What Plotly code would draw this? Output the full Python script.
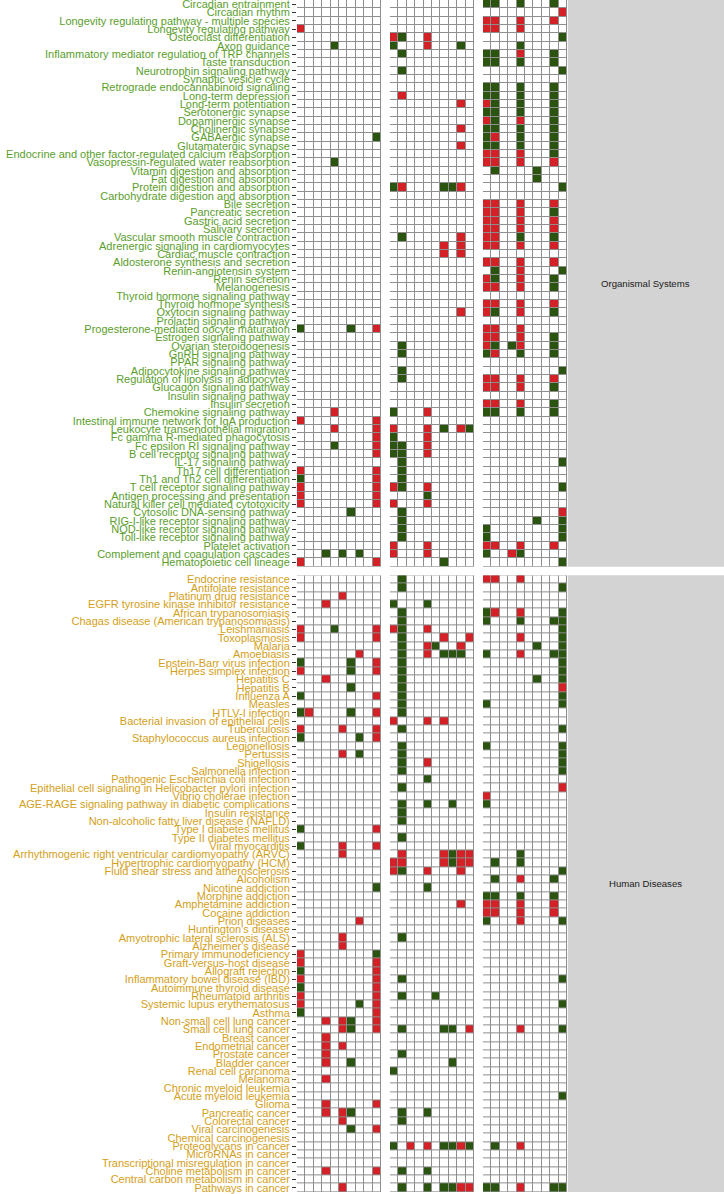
import plotly.graph_objects as go

# ---------------- data ----------------
column_ids = list(range(1, 11))  # 10 columns in each of the 3 panels

os_labels = [
    "Circadian entrainment", "Circadian rhythm", "Longevity regulating pathway - multiple species",
    "Longevity regulating pathway", "Osteoclast differentiation", "Axon guidance",
    "Inflammatory mediator regulation of TRP channels", "Taste transduction",
    "Neurotrophin signaling pathway", "Synaptic vesicle cycle", "Retrograde endocannabinoid signaling",
    "Long-term depression", "Long-term potentiation", "Serotonergic synapse", "Dopaminergic synapse",
    "Cholinergic synapse", "GABAergic synapse", "Glutamatergic synapse",
    "Endocrine and other factor-regulated calcium reabsorption", "Vasopressin-regulated water reabsorption",
    "Vitamin digestion and absorption", "Fat digestion and absorption", "Protein digestion and absorption",
    "Carbohydrate digestion and absorption", "Bile secretion", "Pancreatic secretion",
    "Gastric acid secretion", "Salivary secretion", "Vascular smooth muscle contraction",
    "Adrenergic signaling in cardiomyocytes", "Cardiac muscle contraction",
    "Aldosterone synthesis and secretion", "Renin-angiotensin system", "Renin secretion",
    "Melanogenesis", "Thyroid hormone signaling pathway", "Thyroid hormone synthesis",
    "Oxytocin signaling pathway", "Prolactin signaling pathway", "Progesterone-mediated oocyte maturation",
    "Estrogen signaling pathway", "Ovarian steroidogenesis", "GnRH signaling pathway",
    "PPAR signaling pathway", "Adipocytokine signaling pathway", "Regulation of lipolysis in adipocytes",
    "Glucagon signaling pathway", "Insulin signaling pathway", "Insulin secretion",
    "Chemokine signaling pathway", "Intestinal immune network for IgA production",
    "Leukocyte transendothelial migration", "Fc gamma R-mediated phagocytosis",
    "Fc epsilon RI signaling pathway", "B cell receptor signaling pathway", "IL-17 signaling pathway",
    "Th17 cell differentiation", "Th1 and Th2 cell differentiation", "T cell receptor signaling pathway",
    "Antigen processing and presentation", "Natural killer cell mediated cytotoxicity",
    "Cytosolic DNA-sensing pathway", "RIG-I-like receptor signaling pathway",
    "NOD-like receptor signaling pathway", "Toll-like receptor signaling pathway", "Platelet activation",
    "Complement and coagulation cascades", "Hematopoietic cell lineage",
]

# R = up (red), G = down (green), . = none ; three panels of 10 columns each
os_cells = [
    ".......... .......... GG..G...G.",
    ".......... .......... .........R",
    ".......... .......... RR..R...R.",
    "R......... .......... RR..R.....",
    ".......... RG..R..... .........G",
    "....G..... G...R...G. ....G.....",
    ".......... .G........ GG..R...G.",
    ".......... .......... GG..G...G.",
    ".......... .G........ .........G",
    ".......... .......... ..........",
    ".......... .......... GG..G...G.",
    ".......... .R........ GG..G...G.",
    ".......... ........R. RG..G...G.",
    ".......... .......... GG..G...G.",
    ".......... .......... RG..R...G.",
    ".......... ........R. GG..G...G.",
    ".........G .......... GR..G...G.",
    ".......... ........R. GG..G...G.",
    ".......... .......... RR..R...G.",
    "....G..... .......... RR..R...R.",
    ".......... .......... .G....G...",
    ".......... .......... ......G...",
    ".......... GR....GGR. .........G",
    ".......... .......... ..........",
    ".......... .......... RR..R...R.",
    ".......... .......... RR..R...G.",
    ".......... .......... RR..R...R.",
    ".......... .......... RR..R...R.",
    ".......... .G......R. RR..G...G.",
    ".......... ......R.R. RR..R...R.",
    ".......... ......R.R. ..........",
    ".......... .......... RR..R...R.",
    ".......... .......... .G..R....G",
    ".......... .......... RG..R...G.",
    ".......... .......... RR..R...G.",
    ".......... .......... ..........",
    ".......... .......... RR..R...R.",
    ".......... ........R. RG..R...G.",
    ".......... .......... ..........",
    "G.....G..R .......... RR..R.....",
    ".......... .......... RR..R...G.",
    ".......... .G........ RG.GR...G.",
    ".......... .G........ GR..G...G.",
    ".......... .......... ..........",
    ".......... .G........ .........G",
    ".......... .G........ RR..R...R.",
    ".......... .......... RR..R...G.",
    ".......... .......... ..........",
    ".......... .......... RR..R...G.",
    "....R..... G...R..... GG..G...G.",
    "R........R .......... ..........",
    "....R....R R...R.G.RG ..........",
    ".........R G...R..... ..........",
    "....G....R GG..R..... ..........",
    ".........R GG..R..... ..........",
    ".......... .G........ .........G",
    "R........R .G........ ..........",
    "G........R .G........ ..........",
    "R........R RG..R..... .........G",
    "R........R ....G..... ..........",
    "R........R R...R..... ..........",
    "......G... .G........ .........R",
    ".......... .G........ ......G..G",
    ".......... .G........ G........G",
    ".......... .G........ G........G",
    ".......... R...R..... RR..R...R.",
    "...G.G.G.. R...R..... G..RG.....",
    "R........R ......G... .........G",
]

hd_labels = [
    "Endocrine resistance", "Antifolate resistance", "Platinum drug resistance",
    "EGFR tyrosine kinase inhibitor resistance", "African trypanosomiasis",
    "Chagas disease (American trypanosomiasis)", "Leishmaniasis", "Toxoplasmosis", "Malaria",
    "Amoebiasis", "Epstein-Barr virus infection", "Herpes simplex infection", "Hepatitis C",
    "Hepatitis B", "Influenza A", "Measles", "HTLV-I infection", "Bacterial invasion of epithelial cells",
    "Tuberculosis", "Staphylococcus aureus infection", "Legionellosis", "Pertussis", "Shigellosis",
    "Salmonella infection", "Pathogenic Escherichia coli infection",
    "Epithelial cell signaling in Helicobacter pylori infection", "Vibrio cholerae infection",
    "AGE-RAGE signaling pathway in diabetic complications", "Insulin resistance",
    "Non-alcoholic fatty liver disease (NAFLD)", "Type I diabetes mellitus", "Type II diabetes mellitus",
    "Viral myocarditis", "Arrhythmogenic right ventricular cardiomyopathy (ARVC)",
    "Hypertrophic cardiomyopathy (HCM)", "Fluid shear stress and atherosclerosis", "Alcoholism",
    "Nicotine addiction", "Morphine addiction", "Amphetamine addiction", "Cocaine addiction",
    "Prion diseases", "Huntington's disease", "Amyotrophic lateral sclerosis (ALS)",
    "Alzheimer's disease", "Primary immunodeficiency", "Graft-versus-host disease",
    "Allograft rejection", "Inflammatory bowel disease (IBD)", "Autoimmune thyroid disease",
    "Rheumatoid arthritis", "Systemic lupus erythematosus", "Asthma", "Non-small cell lung cancer",
    "Small cell lung cancer", "Breast cancer", "Endometrial cancer", "Prostate cancer",
    "Bladder cancer", "Renal cell carcinoma", "Melanoma", "Chronic myeloid leukemia",
    "Acute myeloid leukemia", "Glioma", "Pancreatic cancer", "Colorectal cancer",
    "Viral carcinogenesis", "Chemical carcinogenesis", "Proteoglycans in cancer",
    "MicroRNAs in cancer", "Transcriptional misregulation in cancer", "Choline metabolism in cancer",
    "Central carbon metabolism in cancer", "Pathways in cancer",
]

hd_cells = [
    ".......... .G........ RR..R.....",
    ".......... .G........ .........G",
    ".....R.... .......... ..........",
    "...R...... G...G..... ..........",
    ".......... .G........ GR..R....G",
    ".......... .G........ G...G...GG",
    "R...G....R RG..R..... .........G",
    "R........R .G....R..R ....R....G",
    ".......... .G..RG..R. ......G..G",
    ".......R.. .G..R.GGG. G...R...GG",
    "G.....G..R .G........ .........G",
    "R.....G..R .G........ .........G",
    "...R...... .G........ ......G..G",
    "......G... .G........ .........R",
    "G........R .G........ .........G",
    ".......... .G........ G........G",
    "GR....G..R .G........ ..........",
    ".......... R...R.R... ..........",
    "R....R...R .G........ .........G",
    "G......G.R .......... ..........",
    ".......... .G........ G........G",
    ".....R.G.. .G........ .........G",
    ".......... .G..R..... .........G",
    ".......... .G........ .........G",
    ".......... ....G..... ..........",
    ".......... .G........ .........R",
    ".......... .......... R.........",
    ".......... .G..G..G.. G.........",
    ".......... .G........ ..........",
    ".......... .G........ ..........",
    "G........R .......... ..........",
    ".......... .G........ ..........",
    "G....R...R .......... ..........",
    ".....R.... .R....RGRR ....G.....",
    ".......... RR....RGRR .G..G.....",
    ".......... RG..R...R. .........G",
    ".......... .......... .G..R...G.",
    ".........G ....G..... ..........",
    ".......... .......... GG..G...G.",
    ".......... ........R. RR..R...R.",
    ".......... .......... RR..R...R.",
    ".......R.. .......... G...R....G",
    ".......... .......... ..........",
    ".....R.... .G........ ..........",
    ".....R.... .......... ..........",
    "R........G .......... ..........",
    "R........R .......... ..........",
    "G........R .......... ..........",
    "R........R .G........ .........G",
    "G........R .......... ..........",
    "R........R .G...G.... ..........",
    "R......G.R .......... .........G",
    "G........R .......... ..........",
    "...R.RG..R .......... ..........",
    ".....RG..R .G....GG.R ....R....G",
    "...R...... .......... ..........",
    "...R.R.... .......... ..........",
    "...R...... .G........ ..........",
    "...R..G... .......G.. ..........",
    ".......... G......... ..........",
    "...R...... .......... ..........",
    ".......... .......... ..........",
    ".......... .......... .........G",
    "...R.....R .......... ..........",
    "...R.RG... .G..G..... ..........",
    ".....R.... .G........ ..........",
    "......G..R .......... ..........",
    ".......... .......... ..........",
    ".......... G.R.R.GGRG .G..R.....",
    ".......... .......... ..........",
    ".......... .......... ..........",
    "...R.....R .G..G..... ..........",
    ".......... .......... ..........",
    ".....R.... .G..G.GGRR GG..R...GG",
]

facet_names = ["Organismal Systems", "Human Diseases"]
code_value = {".": 0, "R": 1, "G": -1}

# ---------------- style ----------------
RED = "#D42027"
GREEN = "#2A5410"
WHITE = "#FFFFFF"
GRID = "#8E8E8E"
LABEL_COLORS = ["#5A9E2C", "#D4A020"]
STRIP_BG = "#D3D3D3"

W, H = 724, 1194
ML, MR, MT, MB = 297, 157, 0, 2
PW = W - ML - MR
PH = H - MT - MB
PANEL_W = 84
GAP_X = 9
GAP_Y = 8.7

facets = [(os_labels, os_cells), (hd_labels, hd_cells)]
nrows = [len(os_labels), len(hd_labels)]
unit = (PH - GAP_Y) / sum(nrows)
h1 = nrows[0] * unit
h2 = nrows[1] * unit
y_domains = [[1 - h1 / PH, 1.0], [0.0, h2 / PH]]
x_domains = [[(PANEL_W + GAP_X) * p / PW, ((PANEL_W + GAP_X) * p + PANEL_W) / PW] for p in range(3)]

colorscale = [[0, GREEN], [1 / 3, GREEN], [1 / 3, WHITE], [2 / 3, WHITE], [2 / 3, RED], [1, RED]]

fig = go.Figure()
layout = {}
for f, (labels, cells) in enumerate(facets):
    for p in range(3):
        n = f * 3 + p + 1
        suffix = "" if n == 1 else str(n)
        z = [[code_value[ch] for ch in row.split(" ")[p]] for row in cells]
        fig.add_trace(go.Heatmap(
            x=column_ids, y=labels, z=z,
            zmin=-1, zmax=1, colorscale=colorscale, showscale=False,
            xgap=1, ygap=1,
            xaxis="x" + suffix, yaxis="y" + suffix,
            hoverinfo="skip",
        ))
        layout["xaxis" + suffix] = dict(
            domain=x_domains[p], anchor="y" + suffix, range=[0.5, 10.5],
            visible=False, fixedrange=True,
        )
        ya = dict(
            domain=y_domains[f], anchor="x" + suffix,
            type="category", categoryorder="array", categoryarray=labels,
            autorange="reversed", showgrid=False, zeroline=False, fixedrange=True,
        )
        if p == 0:
            ya.update(
                tickmode="array", tickvals=labels, ticktext=labels,
                ticks="outside", ticklen=4, tickwidth=1, tickcolor="#333333",
                showticklabels=True, automargin=False,
                tickfont=dict(family="Liberation Sans, Arial, sans-serif", size=11,
                              color=LABEL_COLORS[f]),
            )
        else:
            first = f * 3 + 1
            ya.update(matches="y" + ("" if first == 1 else str(first)),
                      showticklabels=False, ticks="")
        layout["yaxis" + suffix] = ya

shapes = []
annotations = []
strip_x0 = 1 + 0.8 / PW
strip_x1 = (W - ML) / PW
for f in range(2):
    d = y_domains[f]
    shapes.append(dict(type="rect", xref="paper", yref="paper",
                       x0=strip_x0, x1=strip_x1, y0=d[0], y1=d[1],
                       fillcolor=STRIP_BG, line=dict(width=0), layer="below"))
    annotations.append(dict(
        text=facet_names[f], xref="paper", yref="paper",
        x=(strip_x0 + strip_x1) / 2, y=(d[0] + d[1]) / 2,
        showarrow=False, xanchor="center", yanchor="middle",
        font=dict(family="Liberation Sans, Arial, sans-serif", size=9.6, color="#1A1A1A"),
    ))

fig.update_layout(
    width=W, height=H,
    margin=dict(l=ML, r=MR, t=MT, b=MB, pad=0, autoexpand=False),
    paper_bgcolor="white", plot_bgcolor=GRID,
    showlegend=False, shapes=shapes, annotations=annotations,
    **layout,
)

fig.write_html(
    "out.html",
    config={"displayModeBar": False, "staticPlot": True},
    post_script="document.body.style.margin='0';document.body.style.overflow='hidden';",
)
